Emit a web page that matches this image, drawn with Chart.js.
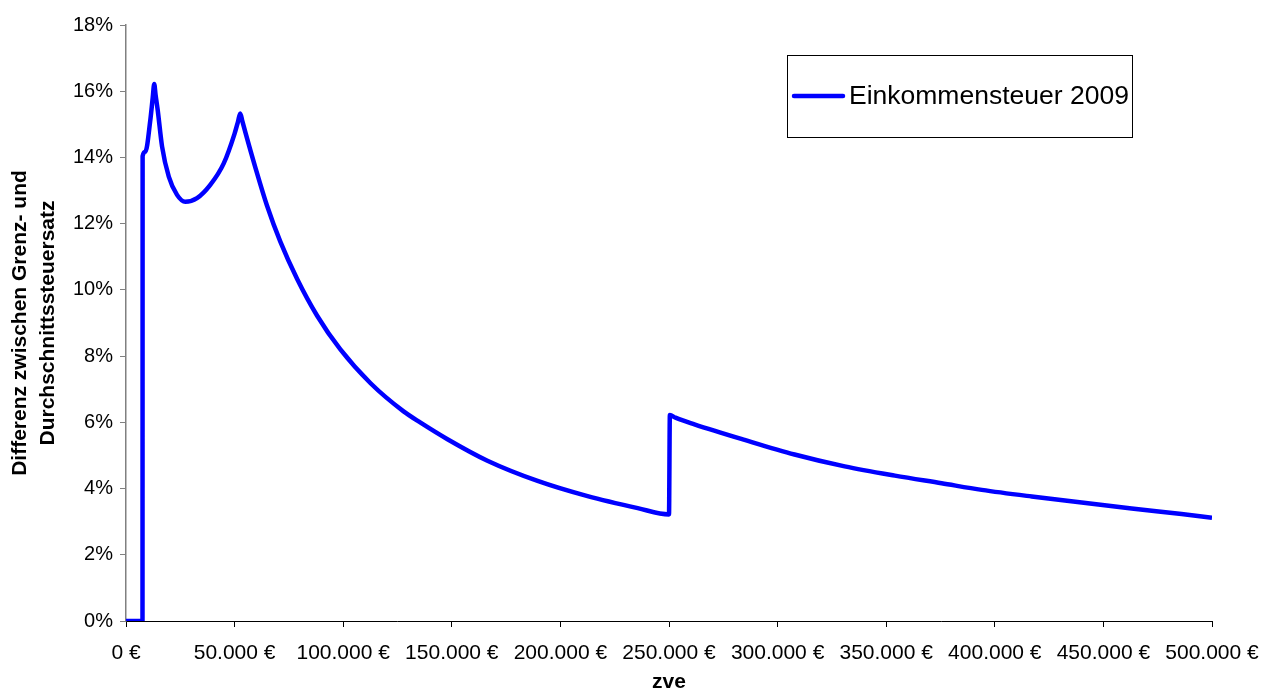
<!DOCTYPE html>
<html>
<head>
<meta charset="utf-8">
<script src="https://cdn.jsdelivr.net/npm/chart.js@4.4.1/dist/chart.umd.min.js"></script>
<style>
    html, body { margin: 0; padding: 0; background: #fff; }
    #wrap { width: 1267px; height: 691px; }
</style>
</head>
<body>
<div id="wrap"><canvas id="tax-chart"></canvas></div>
<script>
// zvE in Euro
const zve = [
    0, 7600, 7650, 8900, 11200, 12300, 13000, 13600, 14600, 16600, 19700, 23500,
    27300, 32700, 38800, 45000, 50000, 51600, 52600, 53600, 55000, 59500, 64900,
    71100, 78800, 88000, 98700, 112600, 127800, 135600, 148000, 166400, 189500,
    212500, 235600, 250000, 250400, 253000, 261700, 284800, 307800, 330900,
    354000, 375500, 394000, 417000, 440000, 463000, 486000, 500000
];

// Differenz Grenz- minus Durchschnittssteuersatz in %
const diff = [
    0, 0, 14.04, 14.17, 15.13, 15.80, 16.22, 15.90, 15.43, 14.33, 13.42, 12.87,
    12.66, 12.77, 13.17, 13.82, 14.72, 15.09, 15.33, 15.09, 14.75, 13.71, 12.55,
    11.45, 10.33, 9.22, 8.20, 7.18, 6.33, 5.99, 5.49, 4.84, 4.23,
    3.77, 3.41, 3.22, 6.22, 6.14, 5.94, 5.47, 5.03, 4.67,
    4.39, 4.16, 3.96, 3.76, 3.58, 3.40, 3.23, 3.12
];

const seriesLabel = 'Einkommensteuer 2009';
const yTitle = ['Differenz zwischen Grenz- und', 'Durchschnittssteuersatz'];
const xTitle = 'zve';

Chart.defaults.font.family = "'Liberation Sans', Arial, sans-serif";
Chart.defaults.color = '#000';

function euro(v) {
    return String(v).replace(/\B(?=(\d{3})+(?!\d))/g, '.') + ' €';
}

// legend box drawn inside the plot, top right
const boxLegend = {
    id: 'boxLegend',
    afterDraw(chart) {
        const c = chart.ctx;
        c.save();
        c.strokeStyle = '#000';
        c.lineWidth = 1;
        c.strokeRect(787.5, 55.5, 345, 82);
        c.strokeStyle = '#0000ff';
        c.lineWidth = 4.5;
        c.lineCap = 'round';
        c.beginPath();
        c.moveTo(794, 96);
        c.lineTo(843, 96);
        c.stroke();
        c.fillStyle = '#000';
        c.font = "26.5px 'Liberation Sans', Arial, sans-serif";
        c.textBaseline = 'middle';
        c.fillText(chart.data.datasets[0].label, 849, 97);
        c.restore();
    }
};

new Chart(document.getElementById('tax-chart'), {
    type: 'line',
    data: {
        datasets: [{
            label: seriesLabel,
            data: zve.map((x, i) => ({ x: x, y: diff[i] })),
            borderColor: '#0000ff',
            borderWidth: 4.5,
            pointRadius: 0,
            cubicInterpolationMode: 'monotone',
            fill: false
        }]
    },
    options: {
        responsive: true,
        maintainAspectRatio: false,
        animation: false,
        layout: { padding: { top: 25, right: 55, left: 0, bottom: 0 } },
        plugins: {
            legend: { display: false },
            tooltip: { enabled: false }
        },
        scales: {
            x: {
                type: 'linear',
                min: 0,
                max: 500000,
                afterFit: s => {
                    s.height = 70;
                    s.paddingLeft = 0;
                    s.paddingRight = 0;
                },
                ticks: {
                    stepSize: 50000,
                    maxRotation: 0,
                    autoSkip: false,
                    padding: 14,
                    font: { size: 21 },
                    callback: v => euro(v)
                },
                grid: { drawOnChartArea: false, color: '#000', tickLength: 6 },
                border: { color: '#000', width: 1 },
                title: {
                    display: true,
                    text: xTitle,
                    font: { size: 21, weight: 'bold', lineHeight: 0.8 },
                    padding: { top: 0, bottom: 0 }
                }
            },
            y: {
                min: 0,
                max: 18,
                afterFit: s => { s.width = 126; },
                ticks: {
                    stepSize: 2,
                    padding: 7,
                    font: { size: 20 },
                    callback: v => v + '%'
                },
                grid: { drawOnChartArea: false, color: '#808080', tickLength: 6 },
                border: { color: '#808080', width: 1.5 },
                title: {
                    display: true,
                    text: yTitle,
                    font: { size: 21, weight: 'bold', lineHeight: 1.33 },
                    padding: { top: 6, bottom: 0 }
                }
            }
        }
    },
    plugins: [boxLegend]
});
</script>
</body>
</html>
